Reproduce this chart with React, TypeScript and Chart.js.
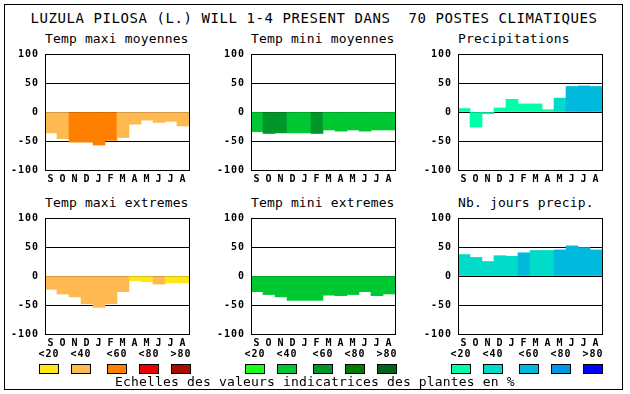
import React, { useEffect, useRef } from "react";
import { Chart, registerables } from "chart.js";
Chart.register(...registerables);

const months = ["S", "O", "N", "D", "J", "F", "M", "A", "M", "J", "J", "A"];
const yTicks = [-100, -50, 0, 50, 100];
const legendLabels = ["<20", "<40", "<60", "<80", ">80"];

const maxiMoy = [-36, -46, -52, -52, -57, -49, -44, -21, -14, -18, -16, -24];
const maxiMoyCls = [1, 1, 2, 2, 2, 2, 1, 1, 1, 1, 1, 1];
const miniMoy = [-34, -37, -36, -36, -36, -37, -31, -33, -31, -33, -31, -31];
const miniMoyCls = [1, 2, 2, 1, 1, 2, 1, 1, 1, 1, 1, 1];
const precip = [6, -26, -3, 7, 22, 14, 14, 4, 24, 44, 45, 44];
const precipCls = [0, 0, 0, 0, 0, 0, 0, 0, 1, 2, 2, 2];
const maxiExt = [-23, -31, -36, -48, -54, -48, -27, -8, -10, -14, -12, -12];
const maxiExtCls = [1, 1, 1, 1, 1, 1, 1, 0, 0, 1, 0, 0];
const miniExt = [-27, -32, -36, -42, -42, -42, -33, -34, -32, -27, -34, -31];
const miniExtCls = [1, 1, 1, 1, 1, 1, 1, 1, 1, 1, 1, 1];
const nbJours = [37, 32, 25, 35, 34, 40, 44, 44, 45, 52, 49, 45];
const nbJoursCls = [1, 1, 1, 1, 1, 2, 1, 1, 2, 2, 2, 2];

const ORANGES = ["#ffe619", "#ffb951", "#ff8000", "#ee0000", "#aa0a00"];
const GREENS = ["#1aff1a", "#00c832", "#00962a", "#007d00", "#006419"];
const BLUES = ["#00ffaa", "#00dcc8", "#00b9dc", "#0096e6", "#0000ff"];

const FONT = "'DejaVu Sans Mono', 'Liberation Mono', monospace";

const COLS = [45, 251, 458];
const ROWS = [50, 214];
const Y_W = 42;
const PAD_T = 8;
const PAD_R = 8;
const X_H = 16;
const PLOT_W = 144;
const PLOT_H = 120;

const framePlugin = {
  id: "frame",
  beforeDraw(chart: any) {
    chart.ctx.letterSpacing = "1px";
  },
  afterDraw(chart: any) {
    const { ctx, chartArea } = chart;
    ctx.save();
    ctx.strokeStyle = "#000";
    ctx.lineWidth = 1;
    ctx.strokeRect(
      Math.round(chartArea.left) + 0.5,
      Math.round(chartArea.top) + 0.5,
      Math.round(chartArea.right - chartArea.left),
      Math.round(chartArea.bottom - chartArea.top)
    );
    ctx.restore();
  },
};

function Panel(props: {
  left: number;
  top: number;
  values: number[];
  cls: number[];
  colors: string[];
}) {
  const ref = useRef<HTMLCanvasElement>(null);
  useEffect(() => {
    const tickFont = { family: FONT, size: 10, weight: "bold" as const };
    const chart = new Chart(ref.current as HTMLCanvasElement, {
      type: "bar",
      data: {
        labels: months,
        datasets: [
          {
            data: props.values,
            backgroundColor: props.cls.map((c) => props.colors[c]),
            borderWidth: 0,
            barPercentage: 1,
            categoryPercentage: 1,
          },
        ],
      },
      options: {
        animation: false,
        responsive: false,
        maintainAspectRatio: false,
        devicePixelRatio: 1,
        layout: { padding: { top: PAD_T, right: PAD_R, left: 0, bottom: 0 } },
        plugins: {
          legend: { display: false },
          tooltip: { enabled: false },
          title: { display: false },
        },
        scales: {
          x: {
            grid: { display: false, drawTicks: false },
            border: { display: false },
            ticks: {
              font: tickFont,
              color: "#000",
              padding: 3,
              maxRotation: 0,
              minRotation: 0,
              autoSkip: false,
            },
            afterFit: (s: any) => {
              s.height = X_H;
            },
          },
          y: {
            min: -100,
            max: 100,
            afterBuildTicks: (s: any) => {
              s.ticks = yTicks.map((v) => ({ value: v }));
            },
            grid: { color: "#000", lineWidth: 1, drawTicks: false },
            border: { display: false },
            ticks: { font: tickFont, color: "#000", padding: 6 },
            afterFit: (s: any) => {
              s.width = Y_W;
            },
            z: 1,
          },
        },
      } as any,
      plugins: [framePlugin],
    });
    return () => chart.destroy();
  }, []);
  const w = Y_W + PLOT_W + PAD_R;
  const h = PAD_T + PLOT_H + X_H;
  return (
    <canvas
      ref={ref}
      width={w}
      height={h}
      style={{ position: "absolute", left: props.left - Y_W, top: props.top - PAD_T, width: w, height: h }}
    />
  );
}

function Title(props: { left: number; top: number; text: string }) {
  return (
    <div
      style={{
        position: "absolute",
        left: props.left,
        top: props.top,
        font: `13px ${FONT}`,
        letterSpacing: "0.15px",
        whiteSpace: "pre",
        color: "#000",
      }}
    >
      {props.text}
    </div>
  );
}

function Legend(props: { left: number; colors: string[] }) {
  const offs = [0, 32, 68, 100, 132];
  return (
    <>
      {offs.map((o, i) => (
        <React.Fragment key={i}>
          <div
            style={{
              position: "absolute",
              left: props.left + o - 10,
              width: 40,
              top: 348,
              textAlign: "center",
              font: `bold 10px ${FONT}`,
              letterSpacing: "1px",
              whiteSpace: "pre",
              color: "#000",
            }}
          >
            {legendLabels[i]}
          </div>
          <div
            style={{
              position: "absolute",
              left: props.left + o,
              top: 364,
              width: 20,
              height: 10,
              boxSizing: "border-box",
              border: "1px solid #000",
              background: props.colors[i],
            }}
          />
        </React.Fragment>
      ))}
    </>
  );
}

export default function App() {
  return (
    <div
      style={{
        position: "absolute",
        left: 0,
        top: 0,
        width: 630,
        height: 394,
        background: "#fff",
        overflow: "hidden",
      }}
    >
      <div
        style={{
          position: "absolute",
          left: 4,
          top: 4,
          width: 619,
          height: 386,
          boxSizing: "border-box",
          border: "1px solid #000",
        }}
      />
      <div
        style={{
          position: "absolute",
          left: 0,
          top: 10,
          width: 628,
          textAlign: "center",
          font: `14px ${FONT}`,
          letterSpacing: "0.57px",
          whiteSpace: "pre",
          color: "#000",
        }}
      >
        {"LUZULA PILOSA (L.) WILL 1-4 PRESENT DANS  70 POSTES CLIMATIQUES"}
      </div>

      <Title left={COLS[0]} top={31} text="Temp maxi moyennes" />
      <Title left={COLS[1]} top={31} text="Temp mini moyennes" />
      <Title left={COLS[2]} top={31} text="Precipitations" />
      <Title left={COLS[0]} top={195} text="Temp maxi extremes" />
      <Title left={COLS[1]} top={195} text="Temp mini extremes" />
      <Title left={COLS[2]} top={195} text="Nb. jours precip." />

      <Panel left={COLS[0]} top={ROWS[0]} values={maxiMoy} cls={maxiMoyCls} colors={ORANGES} />
      <Panel left={COLS[1]} top={ROWS[0]} values={miniMoy} cls={miniMoyCls} colors={GREENS} />
      <Panel left={COLS[2]} top={ROWS[0]} values={precip} cls={precipCls} colors={BLUES} />
      <Panel left={COLS[0]} top={ROWS[1]} values={maxiExt} cls={maxiExtCls} colors={ORANGES} />
      <Panel left={COLS[1]} top={ROWS[1]} values={miniExt} cls={miniExtCls} colors={GREENS} />
      <Panel left={COLS[2]} top={ROWS[1]} values={nbJours} cls={nbJoursCls} colors={BLUES} />

      <Legend left={39} colors={ORANGES} />
      <Legend left={245} colors={GREENS} />
      <Legend left={451} colors={BLUES} />

      <div
        style={{
          position: "absolute",
          left: 115,
          top: 374,
          font: `13px ${FONT}`,
          letterSpacing: "0.17px",
          whiteSpace: "pre",
          color: "#000",
        }}
      >
        {"Echelles des valeurs indicatrices des plantes en %"}
      </div>
    </div>
  );
}
